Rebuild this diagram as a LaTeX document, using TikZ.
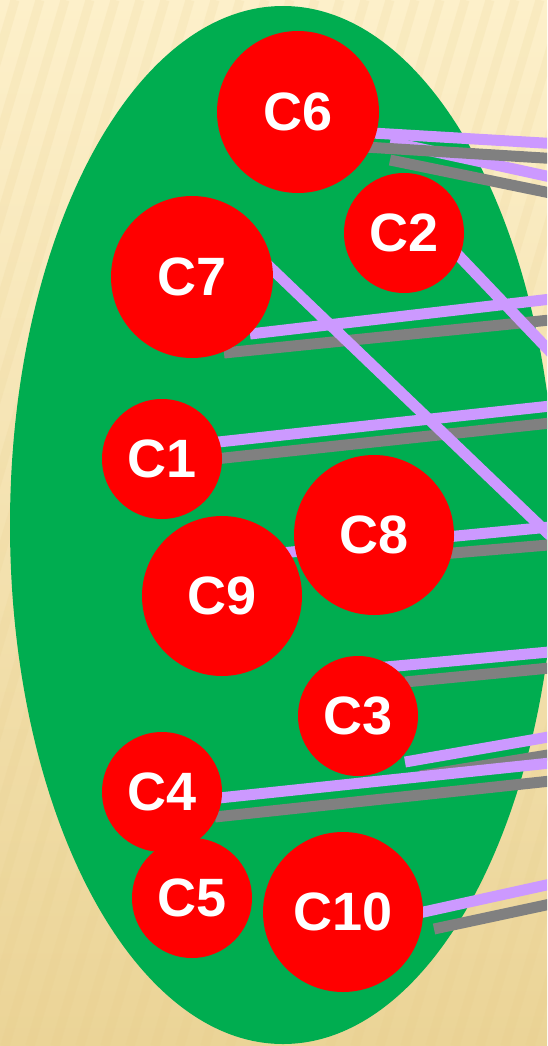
\documentclass[tikz,border=0pt]{standalone}
\usepackage{fontspec}
\setmainfont{Liberation Sans}
\definecolor{bgtop}{HTML}{FDF0CA}
\definecolor{bgbot}{HTML}{EBD497}
\definecolor{stripe}{HTML}{E6CC88}
\definecolor{leaf}{HTML}{00AD50}
\definecolor{lav}{HTML}{CC99FF}
\definecolor{ash}{HTML}{808080}
\begin{document}
\begin{tikzpicture}[x=1pt,y=-1pt,
  ball/.style={circle, fill=red, text=white, inner sep=0pt, minimum size=#1,
    font=\fontsize{54}{54}\selectfont\bfseries},
  pline/.style={draw=lav, line width=11pt},
  gline/.style={draw=ash, line width=11pt}]
\useasboundingbox (0,0) rectangle (547,1046);
\begin{scope}
\clip (0,0) rectangle (547,1046);
\shade[top color=bgtop, bottom color=bgbot] (0,0) rectangle (547,1046);
\foreach \i in {-420,-395,...,560}
  \draw[stripe, opacity=0.14, line width=9pt] (\i,1046) -- (\i+310,0);
\fill[leaf] (283,525) ellipse [x radius=273, y radius=519];
% endpoints
\coordinate (p1a) at (372,133); \coordinate (p1b) at (560,144);
\coordinate (g1a) at (365,147); \coordinate (g1b) at (560,159);
\coordinate (p2a) at (390,142); \coordinate (p2b) at (560,179);
\coordinate (g2a) at (390,160); \coordinate (g2b) at (560,195);
\coordinate (p3a) at (440,236); \coordinate (p3b) at (560,362);
\coordinate (p4a) at (250,248); \coordinate (p4b) at (560,545);
\coordinate (p5a) at (250,334); \coordinate (p5b) at (560,298);
\coordinate (g5a) at (224,353); \coordinate (g5b) at (560,319);
\coordinate (p6a) at (200,444); \coordinate (p6b) at (560,405);
\coordinate (g6a) at (215,459); \coordinate (g6b) at (560,422);
\coordinate (p7a) at (250,556); \coordinate (p7b) at (560,526);
\coordinate (g7a) at (370,560); \coordinate (g7b) at (560,544);
\coordinate (p8a) at (375,668); \coordinate (p8b) at (560,651);
\coordinate (g8a) at (405,682); \coordinate (g8b) at (560,667);
\coordinate (p9a) at (405,762); \coordinate (p9b) at (560,735);
\coordinate (g9a) at (420,776); \coordinate (g9b) at (560,753);
\coordinate (p10a) at (200,800); \coordinate (p10b) at (560,762);
\coordinate (g10a) at (215,817); \coordinate (g10b) at (560,780);
\coordinate (p11a) at (410,915); \coordinate (p11b) at (560,882);
\coordinate (g11a) at (434,929); \coordinate (g11b) at (560,902);
% connectors
\draw[pline] (p2a) -- (p2b);
\draw[gline] (g2a) -- (g2b);
\draw[gline] (g1a) -- (g1b);
\draw[pline] (p1a) -- (p1b);
\draw[gline] (g5a) -- (g5b);
\draw[pline] (p5a) -- (p5b);
\draw[gline] (g6a) -- (g6b);
\draw[pline] (p6a) -- (p6b);
\draw[pline] (p3a) -- (p3b);
\draw[pline] (p4a) -- (p4b);
\draw[gline] (g7a) -- (g7b);
\draw[pline] (p7a) -- (p7b);
\draw[gline] (g8a) -- (g8b);
\draw[pline] (p8a) -- (p8b);
\draw[gline] (g9a) -- (g9b);
\draw[pline] (p9a) -- (p9b);
\draw[gline] (g10a) -- (g10b);
\draw[pline] (p10a) -- (p10b);
\draw[gline] (g11a) -- (g11b);
\draw[pline] (p11a) -- (p11b);
\end{scope}
% circles
\node[ball=162pt] (c6) at (298,112) {C6};
\node[ball=120pt] (c2) at (404,233) {C2};
\node[ball=162pt] (c7) at (192,277) {C7};
\node[ball=120pt] (c1) at (162,459) {C1};
\node[ball=160pt] (c9) at (222,596) {C9};
\node[ball=160pt] (c8) at (374,535) {C8};
\node[ball=120pt] (c3) at (358,716) {C3};
\node[ball=120pt] (c5) at (192,898) {C5};
\node[ball=120pt] (c4) at (162,792) {C4};
\node[ball=160pt] (c10) at (343,912) {C10};
\end{tikzpicture}
\end{document}
